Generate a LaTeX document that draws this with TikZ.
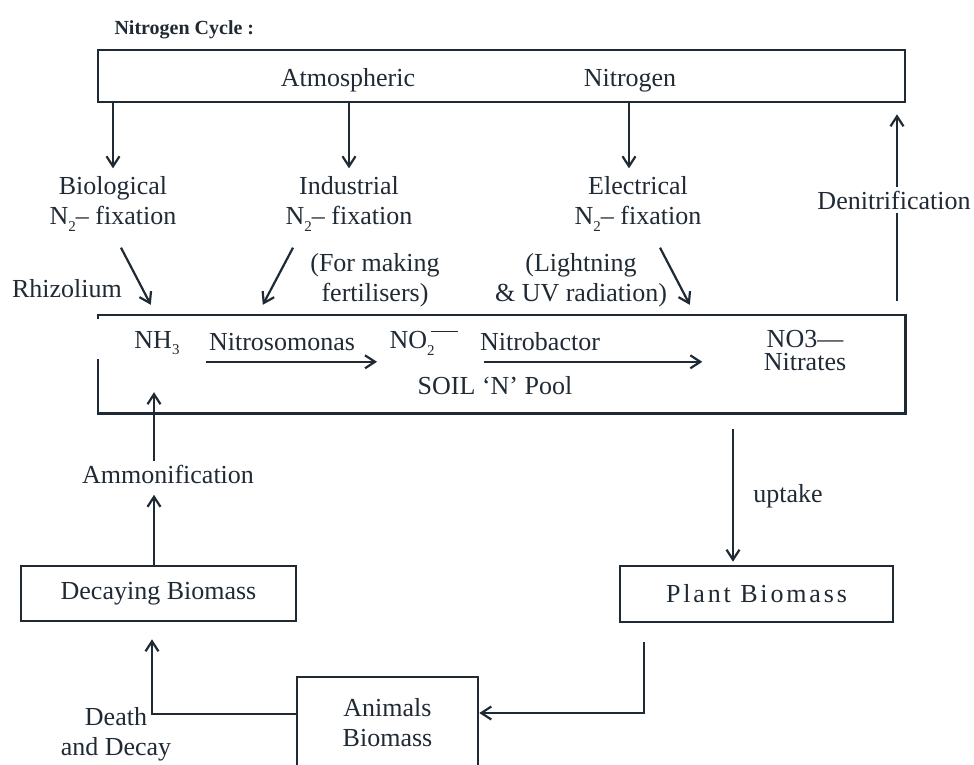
\documentclass[tikz,border=0pt]{standalone}
\usepackage{fontspec}
\setmainfont{Liberation Serif}
\newfontfamily\spacedfont[LetterSpace=11]{Liberation Serif}
\usetikzlibrary{arrows.meta,calc}
\definecolor{ink}{RGB}{32,42,52}
\newcommand\chemsub[1]{\raisebox{-0.24em}{\fontsize{15}{15}\selectfont #1}}

\begin{document}
\begin{tikzpicture}[x=1pt,y=-1pt,
    every node/.style={text=ink, font=\fontsize{26}{30}\selectfont},
    box/.style={draw=ink, line width=2.6pt},
    arr/.style={draw=ink, line width=2.2pt, -{Straight Barb[length=10pt,width=13pt]}},
    plain/.style={draw=ink, line width=2.2pt},
    lbl/.style={align=center}]

\useasboundingbox (0,0) rectangle (974,764);

% Title
\node[anchor=west, font=\fontsize{20}{24}\selectfont\bfseries] (title) at (111,30) {Nitrogen Cycle :};

% Atmospheric nitrogen
\node[box, minimum width=807pt, minimum height=52pt, inner sep=0pt] (atmos) at (501.5,76) {};
\node (atm) at (348,80.5) {Atmospheric};
\node (nitro) at (630,80.5) {Nitrogen};

% Fixation routes
\node[lbl] (biol) at (113,204) {Biological\\N\chemsub{2}– fixation};
\node[lbl] (indus) at (349,204) {Industrial\\N\chemsub{2}– fixation};
\node[lbl] (elec) at (638,204) {Electrical\\N\chemsub{2}– fixation};
\node (rhiz) at (67,289) {Rhizolium};
\node[lbl] (making) at (375,280) {(For making\\fertilisers)};
\node[lbl] (light) at (581,280) {(Lightning\\\& UV radiation)};
\node[inner sep=4pt] (denit) at (894,200) {Denitrification};

\foreach \f/\dx in {biol/0,indus/0,elec/-9} {
    \draw[arr] ($(atmos.south -| \f)+(\dx,0)$) -- ($(\f.north)+(\dx,-5)$);
}

% Soil 'N' pool (left side left open)
\node[minimum width=807pt, minimum height=98pt, inner sep=0pt] (soil) at (501.5,364) {};
\draw[box] ($(soil.north west)+(0,4)$) -- (soil.north west) -- (soil.north east)
    -- (soil.south east) -- (soil.south west) -- ($(soil.south west)+(0,-54)$);

\node (nh3) at (157,343) {NH\chemsub{3}};
\node (nitroso) at (282,342) {Nitrosomonas};
\node[anchor=west] (no2) at (386,343) {NO\chemsub{2}\hspace{-4pt}\raisebox{0.66em}{\rule{27pt}{0.8pt}}};
\node (nitrob) at (540,342) {Nitrobactor};
\node[lbl, font=\fontsize{26}{23}\selectfont] (no3) at (805,351) {NO3—\\Nitrates};
\node (pool) at (495,386) {SOIL ‘N’ Pool};

\draw[arr] ($(nitroso.west |- soil.north)+(0,47)$) -- ($(no2.west |- soil.north)+(-9,47)$);
\draw[arr] ($(nitrob.west |- soil.north)+(7,47)$) -- ($(no3.west |- soil.north)+(-58,47)$);

% Into the pool
\draw[arr] ($(biol.south)+(8,13)$) -- ($(soil.north west)+(53,-10)$);
\draw[arr] ($(indus.south)+(-56,13)$) -- ($(soil.north west)+(165,-10)$);
\draw[arr] ($(elec.south)+(22,13)$) -- ($(soil.north west)+(592,-10)$);

% Back to the atmosphere
\draw[plain] ($(denit.south |- soil.north)+(3,-14)$) -- ($(denit.south)+(3,0)$);
\draw[arr] ($(denit.north)+(3,0)$) -- ($(denit.north |- atmos.south)+(3,11)$);

% Biomass
\node (ammon) at (168,474) {Ammonification};
\node[box, minimum width=275pt, minimum height=55pt] (decay) at (158.5,593.5) {Decaying Biomass};
\node[box, minimum width=273pt, minimum height=56pt, font=\fontsize{26}{30}\spacedfont] (plant) at (756.5,594) {Plant Biomass};
\node (uptake) at (788,496) {uptake};
\node[box, lbl, minimum width=181pt, minimum height=92pt] (animals) at (387.5,723) {Animals\\Biomass};
\node[lbl] (death) at (116,734.5) {Death\\and Decay};

\draw[arr] ($(ammon.north -| nh3)+(-3,0)$) -- ($(nh3 |- soil.south)+(-3,-21)$);
\draw[arr] ($(decay.north -| nh3)+(-3,0)$) -- ($(ammon.south -| nh3)+(-3,8)$);
\draw[arr] ($(soil.south -| plant)+(-23.5,16)$) -- ($(plant.north)+(-23.5,-3)$);
\draw[arr] ($(plant.south west)+(25,19)$) |- ($(animals.east)+(0,-10)$);
\draw[arr] ($(animals.west)+(0,-9)$) -| ($(decay.south)+(-6.5,17)$);

\end{tikzpicture}
\end{document}
